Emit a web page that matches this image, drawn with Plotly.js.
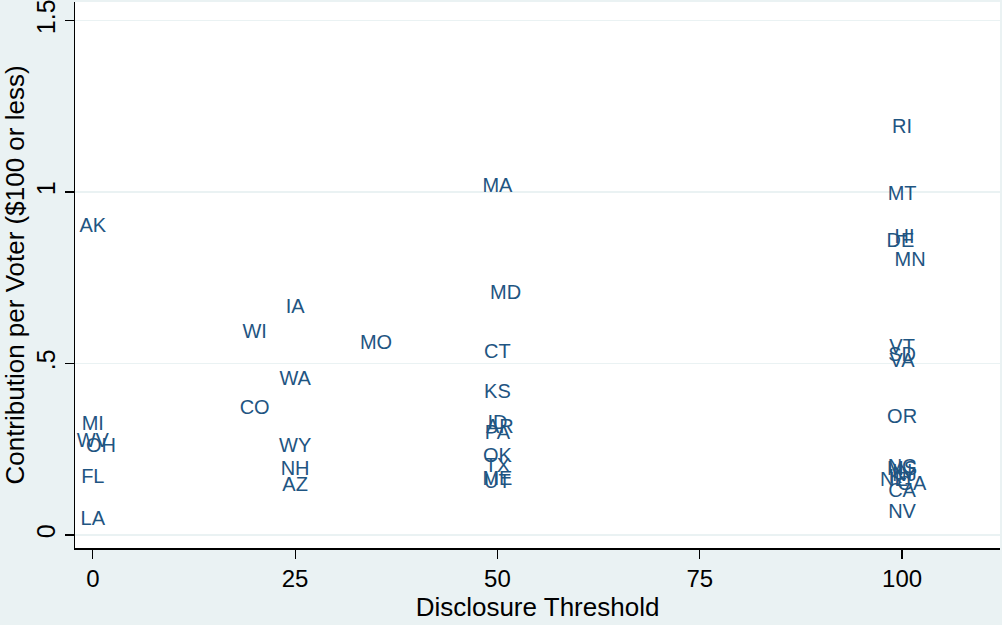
<!DOCTYPE html>
<html>
<head>
<meta charset="utf-8">
<script src="https://cdn.plot.ly/plotly-3.0.1.min.js"></script>
<style>html,body{margin:0;padding:0;background:#eaf2f3;}#chart{width:1002px;height:625px;}</style>
</head>
<body>
<div id="chart"></div>
<script>
const states = ["AK","MI","WV","OH","FL","LA",
  "WI","IA","CO","WA","WY","NH","AZ","MO",
  "MA","MD","CT","KS","ID","AR","PA","OK","TX","ME","UT",
  "RI","MT","HI","DE","MN","VT","SD","VA","OR",
  "NC","MS","IN","NJ","KY","NE","GA","CA","NV"];
const threshold = [0,0,0,1,0,0,
  20,25,20,25,25,25,25,35,
  50,51,50,50,50,50.3,50,50,50,50,50,
  100,100,100.3,99.8,101,100,100,100,100,
  100,100,100,100.3,100,99,101.2,100,100];
const contribution = [0.898,0.321,0.271,0.257,0.166,0.044,
  0.589,0.662,0.367,0.452,0.257,0.190,0.143,0.557,
  1.015,0.703,0.531,0.414,0.324,0.312,0.294,0.227,0.198,0.160,0.152,
  1.187,0.991,0.866,0.854,0.799,0.545,0.522,0.504,0.341,
  0.195,0.188,0.180,0.172,0.165,0.158,0.145,0.125,0.064];

const xTicks = [0,25,50,75,100];
const yTicks = [0,0.5,1,1.5];
const yTickText = ["0",".5","1","1.5"];

const trace = {
  x: threshold, y: contribution, text: states,
  mode: "text", type: "scatter",
  textposition: "middle center",
  textfont: {family: "Liberation Sans, Arial, sans-serif", size: 20, color: "#1f5582"},
  hoverinfo: "text", cliponaxis: false
};

const layout = {
  width: 1002, height: 625,
  paper_bgcolor: "#eaf2f3", plot_bgcolor: "#ffffff",
  margin: {l: 75, r: 2, t: 2, b: 77},
  showlegend: false,
  font: {family: "Liberation Sans, Arial, sans-serif", color: "#000"},
  xaxis: {
    range: [-2.2, 112.1], tickvals: xTicks, ticktext: xTicks.map(String),
    showgrid: false, zeroline: false, showline: true, linecolor: "#000", linewidth: 1.5,
    ticks: "outside", ticklen: 9, tickwidth: 1.2, tickcolor: "#000",
    tickfont: {size: 24, color: "#000"},
    title: {text: "Disclosure Threshold", font: {size: 26, color: "#000"}, standoff: 2}
  },
  yaxis: {
    range: [-0.038, 1.554], tickvals: yTicks, ticktext: yTickText,
    ticklabeloverflow: "allow",
    showgrid: true, gridcolor: "#eaf2f3", gridwidth: 1.2,
    zeroline: false, showline: true, linecolor: "#000", linewidth: 1.5,
    ticks: "outside", ticklen: 9, tickwidth: 1.2, tickcolor: "#000",
    tickangle: -90, tickfont: {size: 25, color: "#000"},
    title: {text: "Contribution per Voter ($100 or less)", font: {size: 26, color: "#000"}, standoff: 6}
  }
};
Plotly.newPlot("chart", [trace], layout, {displayModeBar: false, staticPlot: true});
</script>
</body>
</html>
